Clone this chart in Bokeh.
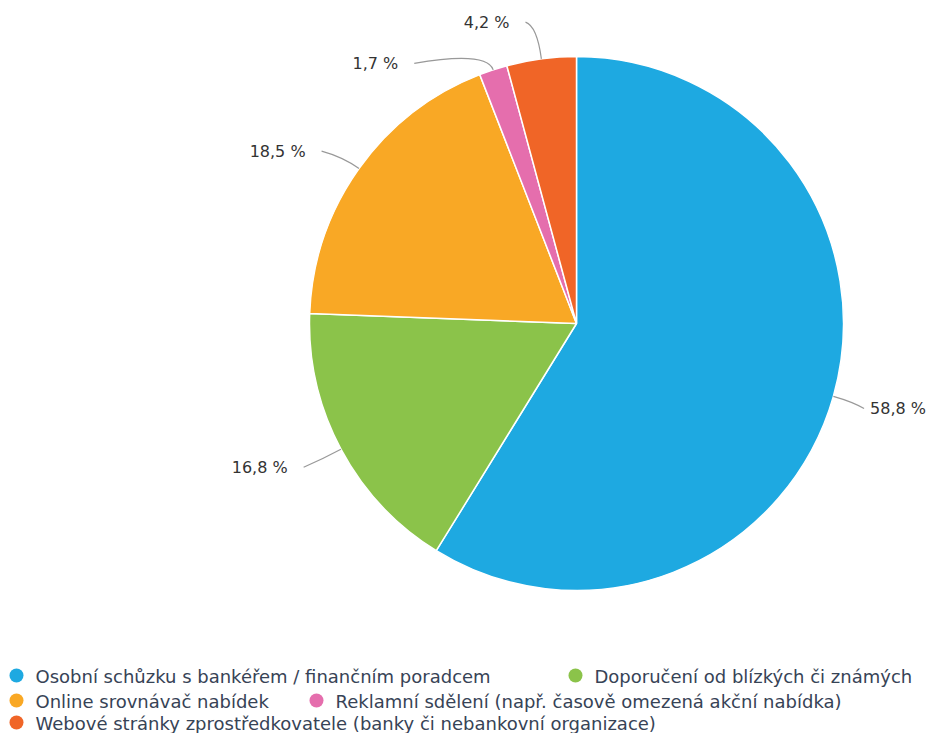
import math
from bokeh.plotting import figure
from bokeh.models import Range1d
from bokeh.embed import file_html
from bokeh.resources import INLINE
from bokeh.core.properties import value

categories = [
    "Osobní schůzku s bankéřem / finančním poradcem",
    "Doporučení od blízkých či známých",
    "Online srovnávač nabídek",
    "Reklamní sdělení (např. časově omezená akční nabídka)",
    "Webové stránky zprostředkovatele (banky či nebankovní organizace)",
]
shares = [58.8, 16.8, 18.5, 1.7, 4.2]
labels = ["58,8 %", "16,8 %", "18,5 %", "1,7 %", "4,2 %"]
colors = ["#1ea9e1", "#8bc34a", "#f9a825", "#e56ead", "#f06527"]

W, H = 931, 733
FONT = "DejaVu Sans"

p = figure(width=W, height=H, output_backend="svg", toolbar_location=None,
           x_range=Range1d(0, W), y_range=Range1d(0, H),
           x_axis_location=None, y_axis_location=None, min_border=0)
p.outline_line_color = None
p.grid.visible = False
p.background_fill_color = "white"
p.border_fill_color = "white"

def sx(x):
    return x

def sy(y):
    return H - y

# pie geometry (screen coords, y down)
CX, CY, R = 576, 323, 267
total = sum(shares)
starts, ends, mids = [], [], []
cum = 0.0
for s in shares:
    starts.append(cum / total)
    cum += s
    ends.append(cum / total)
    mids.append((starts[-1] + ends[-1]) / 2)

p.wedge(x=[sx(CX)] * len(shares), y=[sy(CY)] * len(shares), radius=R,
        start_angle=[math.pi / 2 - 2 * math.pi * a for a in starts],
        end_angle=[math.pi / 2 - 2 * math.pi * b for b in ends],
        direction="clock", fill_color=colors, line_color="white", line_width=1.5)

# data labels with connectors
LD = 30
label_dy = [4, 4, 0, 22, -7]
label_dx = [0, 0, 0, -6, -38]
break_d = [20, 20, 20, 20, 33]
for i, m in enumerate(mids):
    th = 2 * math.pi * m
    ux, uy = math.sin(th), -math.cos(th)
    ex, ey = CX + R * ux, CY + R * uy
    ty = CY + (R + LD) * uy + label_dy[i]
    d = min(abs(ty - CY), R + LD)
    half = math.sqrt((R + LD) ** 2 - d ** 2)
    right = ux >= 0
    xr = CX + half if right else CX - half
    xr += label_dx[i]
    bx, by = ex + break_d[i] * ux, ey + break_d[i] * uy
    if right:
        x0 = xr + 3
        tx = xr + 9
        align = "left"
    else:
        x0 = xr - 13
        tx = xr - 29
        align = "right"
    p.quadratic(x0=[sx(x0)], y0=[sy(ty)], x1=[sx(ex)], y1=[sy(ey)],
                cx=[sx(bx)], cy=[sy(by)], line_color="#999999", line_width=1.2)
    p.text(x=[sx(tx)], y=[sy(ty)], text=[labels[i]], text_align=align,
           text_baseline="middle", text_font=value(FONT),
           text_font_size="16px", text_color="#333333")

# legend (manual, Highcharts-like flow)
leg_x = [16, 575, 16, 316, 16]
leg_y = [676, 676, 701, 701, 723]
p.scatter(x=[sx(v) for v in leg_x], y=[sy(v - 1) for v in leg_y], size=14,
          marker="circle", fill_color=colors, line_color=None)
p.text(x=[sx(v + 19) for v in leg_x], y=[sy(v) for v in leg_y], text=categories,
       text_align="left", text_baseline="middle", text_font=value(FONT),
       text_font_size="18px", text_color="#374356")

open("out.html", "w").write(file_html(p, INLINE))
